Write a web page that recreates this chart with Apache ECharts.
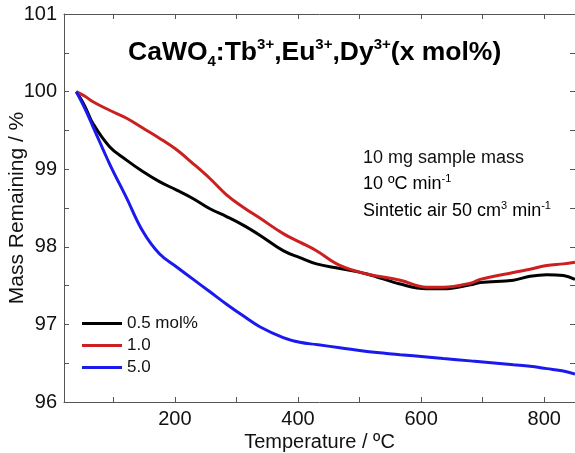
<!DOCTYPE html>
<html>
<head>
<meta charset="utf-8">
<script src="https://cdn.jsdelivr.net/npm/echarts@6/dist/echarts.min.js"></script>
<style>html,body{margin:0;padding:0;background:#fff}#c{width:575px;height:453px}</style>
</head>
<body>
<div id="c"></div>
<script>
// Temperature (°C) sample grid shared by all series
var temps = [40, 54, 67, 94, 121, 148, 175, 203, 230, 257, 284, 311, 338, 376, 403, 430, 468, 512, 566, 609, 636, 680, 696, 750, 777, 804, 831, 850];
// Mass remaining (%)
var mass05 = [100, 99.81, 99.59, 99.29, 99.12, 98.97, 98.84, 98.73, 98.62, 98.49, 98.39, 98.28, 98.15, 97.95, 97.86, 97.78, 97.72, 97.65, 97.52, 97.46, 97.46, 97.51, 97.54, 97.57, 97.62, 97.64, 97.63, 97.58];
var mass10 = [100, 99.94, 99.87, 99.76, 99.66, 99.53, 99.40, 99.25, 99.07, 98.88, 98.67, 98.51, 98.37, 98.17, 98.06, 97.95, 97.76, 97.65, 97.57, 97.48, 97.48, 97.53, 97.58, 97.67, 97.71, 97.76, 97.78, 97.80];
var mass50 = [100, 99.78, 99.55, 99.07, 98.64, 98.20, 97.91, 97.74, 97.58, 97.42, 97.26, 97.11, 96.97, 96.83, 96.77, 96.74, 96.70, 96.65, 96.61, 96.58, 96.56, 96.53, 96.52, 96.48, 96.46, 96.43, 96.40, 96.36];
var seriesNames = ['0.5 mol%', '1.0', '5.0'];
var xLabelValues = [200, 400, 600, 800];
var xTickValues = [100, 200, 300, 400, 500, 600, 700, 800];

function pairs(ys) { return temps.map(function (t, i) { return [t, ys[i]]; }); }

var FF = '"Liberation Sans", Arial, sans-serif';
var axisLineStyle = { color: '#555', width: 1 };
var chart = echarts.init(document.getElementById('c'));
chart.setOption({
  animation: false,
  backgroundColor: '#fff',
  grid: { left: 64, right: 0, top: 14, bottom: 51, containLabel: false, outerBoundsMode: 'none' },
  title: {
    left: 128, top: 37, padding: 0,
    text: '{m|CaWO}{sb|4}{m|:Tb}{sp|3+}{m|,Eu}{sp|3+}{m|,Dy}{sp|3+}{m|(x mol%)}',
    textStyle: {
      rich: {
        m: { fontFamily: FF, fontSize: 26.5, fontWeight: 'bold', color: '#000', lineHeight: 32 },
        sp: { fontFamily: FF, fontSize: 15, fontWeight: 'bold', color: '#000', lineHeight: 18, verticalAlign: 'top' },
        sb: { fontFamily: FF, fontSize: 15, fontWeight: 'bold', color: '#000', lineHeight: 12, verticalAlign: 'bottom' }
      }
    }
  },
  legend: {
    data: seriesNames,
    orient: 'vertical',
    left: 82, top: 314,
    icon: 'rect',
    itemWidth: 40, itemHeight: 3,
    itemGap: 3,
    padding: 0,
    textStyle: { fontFamily: FF, fontSize: 17, color: '#111', lineHeight: 19 }
  },
  xAxis: [{
    type: 'value', min: 20, max: 850, position: 'bottom',
    name: 'Temperature / ºC', nameLocation: 'middle', nameGap: 30, nameMoveOverlap: false,
    nameTextStyle: { fontFamily: FF, fontSize: 20, color: '#111' },
    axisLine: { show: true, lineStyle: axisLineStyle },
    axisTick: { show: true, inside: true, length: 5, lineStyle: axisLineStyle, customValues: xTickValues },
    axisLabel: { customValues: xLabelValues, fontFamily: FF, fontSize: 20, color: '#111', margin: 7 },
    splitLine: { show: false }
  }, {
    type: 'value', min: 20, max: 850, position: 'top',
    axisLine: { show: true, lineStyle: axisLineStyle },
    axisTick: { show: true, inside: true, length: 5, lineStyle: axisLineStyle, customValues: xTickValues },
    axisLabel: { show: false },
    splitLine: { show: false }
  }],
  yAxis: [{
    type: 'value', min: 96, max: 101, interval: 0.5, position: 'left',
    name: 'Mass Remaining / %', nameLocation: 'middle', nameGap: 36, nameMoveOverlap: false,
    nameTextStyle: { fontFamily: FF, fontSize: 21, color: '#111' },
    axisLine: { show: true, lineStyle: axisLineStyle },
    axisTick: { show: true, inside: true, length: 5, lineStyle: axisLineStyle },
    axisLabel: {
      fontFamily: FF, fontSize: 20, color: '#111', margin: 7,
      formatter: function (v) { return Math.abs(v - Math.round(v)) < 1e-6 ? String(Math.round(v)) : ''; }
    },
    splitLine: { show: false }
  }, {
    type: 'value', min: 96, max: 101, interval: 0.5, position: 'right',
    axisLine: { show: true, lineStyle: axisLineStyle },
    axisTick: { show: true, inside: true, length: 5, lineStyle: axisLineStyle },
    axisLabel: { show: false },
    splitLine: { show: false }
  }],
  graphic: [
    { type: 'text', x: 363, y: 158, style: { text: '10 mg sample mass', font: '18px ' + FF, fill: '#111', verticalAlign: 'middle' } },
    { type: 'text', x: 363, y: 184, style: {
        text: '{n|10 ºC min}{s|-1}', verticalAlign: 'middle',
        rich: { n: { fontFamily: FF, fontSize: 18, color: '#111', lineHeight: 22 },
                s: { fontFamily: FF, fontSize: 11, color: '#111', lineHeight: 13, verticalAlign: 'top' } } } },
    { type: 'text', x: 363, y: 211, style: {
        text: '{n|Sintetic air 50 cm}{s|3}{n| min}{s|-1}', verticalAlign: 'middle',
        rich: { n: { fontFamily: FF, fontSize: 18, color: '#111', lineHeight: 22 },
                s: { fontFamily: FF, fontSize: 11, color: '#111', lineHeight: 13, verticalAlign: 'top' } } } }
  ],
  series: [
    { name: seriesNames[0], type: 'line', data: pairs(mass05), symbol: 'none', smooth: 0.4, color: '#000000', lineStyle: { width: 3, color: '#000000' } },
    { name: seriesNames[1], type: 'line', data: pairs(mass10), symbol: 'none', smooth: 0.4, color: '#cc1f1f', lineStyle: { width: 3, color: '#cc1f1f' } },
    { name: seriesNames[2], type: 'line', data: pairs(mass50), symbol: 'none', smooth: 0.4, color: '#1a1aee', lineStyle: { width: 3, color: '#1a1aee' } }
  ]
});
</script>
</body>
</html>
